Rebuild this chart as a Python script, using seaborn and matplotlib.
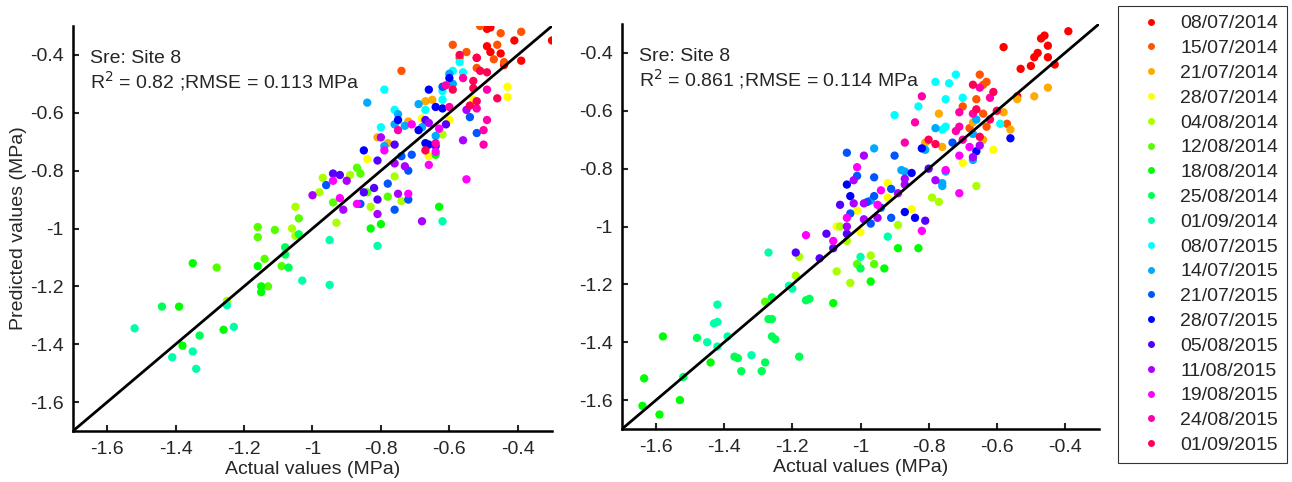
import numpy as np
import pandas as pd
import matplotlib
matplotlib.use("Agg")
import matplotlib.pyplot as plt
from matplotlib.lines import Line2D
import seaborn as sns

sns.set_style("white")
plt.rcParams['font.family'] = ['Liberation Sans', 'DejaVu Sans']

dates = ["08/07/2014", "15/07/2014", "21/07/2014", "28/07/2014", "04/08/2014",
         "12/08/2014", "18/08/2014", "25/08/2014", "01/09/2014", "08/07/2015",
         "14/07/2015", "21/07/2015", "28/07/2015", "05/08/2015", "11/08/2015",
         "19/08/2015", "24/08/2015", "01/09/2015"]

# left panel, one sublist per date
left_actual = [
    [-0.49, -0.48, -0.30, -0.41, -0.49, -0.48, -0.45, -0.39, -0.44, -0.52],
    [-0.51, -0.45, -0.39, -0.59, -0.55, -0.46, -0.47, -0.44, -0.52, -0.74, -0.57],
    [-0.67, -0.65, -0.72, -0.78, -0.81],
    [-0.43, -0.43, -0.68, -0.60, -0.66, -0.84, -0.53],
    [-0.62, -0.76, -0.89, -0.97, -0.98, -0.83, -1.05, -0.93, -1.06, -1.05, -1.25, -0.74],
    [-0.87, -0.86, -0.84, -0.78, -1.04, -1.16, -1.11, -1.16, -1.14, -1.28, -1.13, -1.09, -0.94],
    [-0.63, -0.80, -0.83, -1.35, -1.16, -1.15, -1.15, -1.39, -1.26, -1.38, -0.64],
    [-1.04, -1.08, -1.08, -1.07, -1.44, -1.33],
    [-0.62, -0.95, -0.81, -1.03, -0.95, -1.25, -1.23, -1.52, -1.35, -1.41, -1.34],
    [-0.57, -0.59, -0.56, -0.62, -0.79, -0.62, -0.76, -0.67, -0.80],
    [-0.60, -0.59, -0.69, -0.84, -0.75, -0.76, -0.73, -0.68, -0.79, -0.64],
    [-0.62, -0.54, -0.52, -0.72, -0.71, -0.74, -0.96, -0.78, -0.86, -0.76, -0.72],
    [-0.60, -0.66, -0.64, -0.62, -0.75, -0.69, -0.67, -0.66, -0.85],
    [-0.67, -0.61, -0.76, -0.64, -0.81, -0.94, -0.92, -0.82, -0.85, -0.81],
    [-0.55, -0.66, -0.80, -0.56, -0.76, -0.73, -0.90, -1.00, -0.75, -0.91, -0.81, -0.68],
    [-0.71, -0.63, -0.64, -0.79, -0.66, -0.94, -0.72, -0.92, -0.87, -0.55],
    [-0.61, -0.56, -0.49, -0.60, -0.52, -0.49, -0.75, -0.50, -0.50, -0.64],
    [-0.57, -0.52, -0.51, -0.49, -0.59, -0.53, -0.53, -0.46, -0.54, -0.52, -0.67],
]
left_pred = [
    [-0.31, -0.305, -0.35, -0.35, -0.37, -0.39, -0.395, -0.42, -0.435, -0.41],
    [-0.30, -0.325, -0.32, -0.365, -0.39, -0.365, -0.415, -0.425, -0.445, -0.455, -0.41],
    [-0.56, -0.555, -0.63, -0.705, -0.685],
    [-0.51, -0.545, -0.62, -0.625, -0.75, -0.76, -0.555],
    [-0.675, -0.82, -0.815, -0.825, -0.875, -0.925, -0.925, -0.98, -1.00, -1.025, -1.25, -0.905],
    [-0.79, -0.81, -0.875, -0.89, -0.965, -0.995, -1.005, -1.03, -1.105, -1.135, -1.20, -1.13, -0.91],
    [-0.925, -0.985, -1.00, -1.12, -1.13, -1.20, -1.22, -1.27, -1.35, -1.405, -0.745],
    [-1.02, -1.065, -1.09, -1.135, -1.27, -1.37],
    [-0.975, -1.04, -1.06, -1.18, -1.195, -1.265, -1.34, -1.345, -1.425, -1.445, -1.485],
    [-0.425, -0.455, -0.46, -0.525, -0.52, -0.555, -0.59, -0.59, -0.65],
    [-0.465, -0.50, -0.57, -0.565, -0.605, -0.64, -0.645, -0.65, -0.715, -0.68],
    [-0.51, -0.615, -0.67, -0.80, -0.745, -0.75, -0.85, -0.845, -0.915, -0.935, -0.90],
    [-0.48, -0.52, -0.58, -0.585, -0.625, -0.66, -0.705, -0.71, -0.73],
    [-0.625, -0.64, -0.71, -0.715, -0.765, -0.81, -0.815, -0.86, -0.875, -0.90],
    [-0.59, -0.635, -0.685, -0.695, -0.775, -0.785, -0.835, -0.885, -0.88, -0.935, -0.95, -0.975],
    [-0.64, -0.655, -0.735, -0.73, -0.78, -0.835, -0.88, -0.895, -0.915, -0.83],
    [-0.505, -0.48, -0.52, -0.58, -0.585, -0.625, -0.66, -0.66, -0.71, -0.705],
    [-0.40, -0.41, -0.455, -0.46, -0.52, -0.49, -0.515, -0.55, -0.575, -0.56, -0.73],
]

# right panel, one sublist per date
right_actual = [
    [-0.39, -0.46, -0.47, -0.58, -0.45, -0.48, -0.49, -0.45, -0.43, -0.50, -0.53, -0.54],
    [-0.65, -0.63, -0.64, -0.66, -0.70, -0.64, -0.63, -0.57, -0.68],
    [-0.45, -0.49, -0.54, -0.77, -0.58, -0.56, -0.67, -0.64, -0.76, -0.81],
    [-0.61, -0.70, -0.92, -0.92, -1.01, -0.85, -1.07, -1.00],
    [-0.66, -0.79, -0.77, -1.06, -0.89, -1.04, -1.18, -0.97, -1.07, -1.19, -1.03],
    [-1.28, -1.01, -0.96],
    [-0.89, -0.83, -0.97, -1.58, -1.635, -1.64, -1.59, -1.53, -1.44, -1.08, -0.93],
    [-1.00, -1.16, -1.15, -1.26, -1.27, -1.26, -1.26, -1.25, -1.48, -1.37, -1.36, -1.35, -1.28, -1.29, -1.18, -1.52],
    [-0.92, -1.27, -1.00, -1.21, -1.20, -1.42, -1.43, -1.42, -1.42, -1.39, -1.45, -1.32],
    [-0.72, -0.74, -0.78, -0.75, -0.83, -0.70, -0.59, -0.76, -0.75, -0.90],
    [-0.66, -0.78, -0.67, -0.81, -0.67, -0.96, -0.88, -0.87, -0.75, -0.76, -0.76, -0.97],
    [-0.73, -1.04, -0.90, -1.01, -0.96, -0.91, -0.96, -0.98, -0.94, -1.03, -0.91, -0.97],
    [-0.56, -0.66, -0.82, -0.85, -1.04, -1.03, -0.87, -0.84],
    [-0.80, -0.81, -1.06, -1.10, -1.04, -1.08, -1.19, -1.12],
    [-0.65, -0.67, -0.99, -1.02, -0.87, -0.87, -0.78, -0.99, -1.02, -0.89, -0.95, -0.99, -1.04],
    [-0.68, -0.71, -1.01, -0.94, -0.75, -0.71, -0.95, -1.04, -0.82, -1.16, -1.08],
    [-0.82, -0.84, -0.65, -0.62, -0.71, -0.67, -0.71, -0.72, -0.70, -0.87],
    [-0.67, -0.61, -0.66, -0.60, -0.62, -0.65, -0.78, -0.80],
]
right_pred = [
    [-0.325, -0.34, -0.35, -0.38, -0.375, -0.40, -0.415, -0.415, -0.44, -0.445, -0.455, -0.55],
    [-0.475, -0.50, -0.51, -0.56, -0.585, -0.61, -0.655, -0.645, -0.66],
    [-0.52, -0.55, -0.56, -0.61, -0.605, -0.665, -0.64, -0.70, -0.725, -0.71],
    [-0.735, -0.78, -0.85, -0.90, -0.945, -0.94, -1.00, -1.02],
    [-0.86, -0.90, -0.915, -1.00, -0.995, -1.05, -1.105, -1.10, -1.155, -1.17, -1.195],
    [-1.26, -1.13, -1.13],
    [-1.075, -1.075, -1.19, -1.38, -1.525, -1.62, -1.65, -1.60, -1.47, -1.265, -1.145],
    [-1.145, -1.255, -1.25, -1.245, -1.32, -1.32, -1.38, -1.39, -1.385, -1.45, -1.455, -1.50, -1.47, -1.50, -1.45, -1.52],
    [-1.035, -1.09, -1.105, -1.205, -1.215, -1.27, -1.335, -1.33, -1.415, -1.38, -1.40, -1.445],
    [-0.475, -0.505, -0.50, -0.56, -0.585, -0.555, -0.645, -0.665, -0.655, -0.615],
    [-0.63, -0.66, -0.68, -0.735, -0.77, -0.73, -0.805, -0.81, -0.81, -0.85, -0.86, -0.91],
    [-0.71, -0.745, -0.755, -0.825, -0.83, -0.87, -0.895, -0.915, -0.935, -0.955, -0.97, -0.99],
    [-0.695, -0.74, -0.73, -0.815, -0.855, -0.895, -0.95, -0.97],
    [-0.80, -0.98, -0.925, -1.025, -1.025, -1.075, -1.09, -1.11],
    [-0.72, -0.76, -0.755, -0.84, -0.835, -0.855, -0.84, -0.92, -0.92, -0.885, -0.97, -0.975, -1.00],
    [-0.725, -0.755, -0.795, -0.875, -0.805, -0.885, -0.925, -0.97, -1.015, -1.03, -1.05],
    [-0.55, -0.64, -0.52, -0.555, -0.605, -0.61, -0.655, -0.67, -0.70, -0.71],
    [-0.51, -0.535, -0.595, -0.60, -0.63, -0.69, -0.715, -0.70],
]

site_label = "Sre: Site 8"
stat_labels = ["R$^2$ = 0.82 ;RMSE = 0.113 MPa",
               "R$^2$ = 0.861 ;RMSE = 0.114 MPa"]
tick_values = [-1.6, -1.4, -1.2, -1.0, -0.8, -0.6, -0.4]
tick_labels = ["-1.6", "-1.4", "-1.2", "-1", "-0.8", "-0.6", "-0.4"]
axis_limits = [-1.7, -0.3]


def to_frame(actual, pred):
    rows = []
    for d, (xs, ys) in enumerate(zip(actual, pred)):
        for x, y in zip(xs, ys):
            rows.append((x, y, dates[d]))
    return pd.DataFrame(rows, columns=["actual", "pred", "date"])


palette = sns.hls_palette(len(dates), h=0.0, l=0.5, s=1.0)
FS = 14

fig = plt.figure(figsize=(12.92, 4.82), dpi=100)
ax1 = fig.add_axes([73 / 1292, 1 - 431 / 482, 479 / 1292, 405 / 482])
ax2 = fig.add_axes([622 / 1292, 1 - 429 / 482, 477 / 1292, 405 / 482])

for ax, (act, prd), stat in zip([ax1, ax2],
                                [(left_actual, left_pred), (right_actual, right_pred)],
                                stat_labels):
    df = to_frame(act, prd)
    sns.scatterplot(data=df, x="actual", y="pred", hue="date", hue_order=dates,
                    palette=palette, s=36, linewidth=0, legend=False, ax=ax,
                    zorder=2)
    sns.lineplot(x=axis_limits, y=axis_limits, color="black", linewidth=2.0,
                 ax=ax, zorder=3)
    ax.set_xlim(axis_limits)
    ax.set_ylim(axis_limits)
    ax.set_xticks(tick_values)
    ax.set_xticklabels(tick_labels)
    ax.set_yticks(tick_values)
    ax.set_yticklabels(tick_labels)
    ax.tick_params(axis="x", direction="in", length=4, width=1.5, labelsize=FS,
                   pad=7, bottom=True, top=False)
    ax.tick_params(axis="y", direction="in", length=4, width=1.5, labelsize=FS,
                   pad=6.5, left=True, right=False)
    for s in ["top", "right"]:
        ax.spines[s].set_visible(False)
    for s in ["left", "bottom"]:
        ax.spines[s].set_linewidth(1.8)
        ax.spines[s].set_color("black")
    ax.set_xlabel("Actual values (MPa)", fontsize=FS, labelpad=2)
    ax.set_ylabel("")
    ax.text(0.035, 0.909, site_label, transform=ax.transAxes, fontsize=FS,
            va="baseline", ha="left")
    ax.text(0.035, 0.845, stat, transform=ax.transAxes, fontsize=FS,
            va="baseline", ha="left")

ax1.set_ylabel("Predicted values (MPa)", fontsize=FS, labelpad=2)

handles = [Line2D([0], [0], marker="o", linestyle="", markersize=5,
                  markerfacecolor=palette[i], markeredgewidth=0) for i in range(len(dates))]
leg = fig.legend(handles, dates, loc="upper left",
                 bbox_to_anchor=(1118 / 1292, 1 - 6 / 482), borderaxespad=0,
                 fontsize=FS, frameon=True, fancybox=False, edgecolor="black",
                 borderpad=0.45, labelspacing=0.37, handlelength=2.5,
                 handletextpad=0.24)
leg.get_frame().set_linewidth(0.8)

fig.savefig("out.png", dpi=100)
